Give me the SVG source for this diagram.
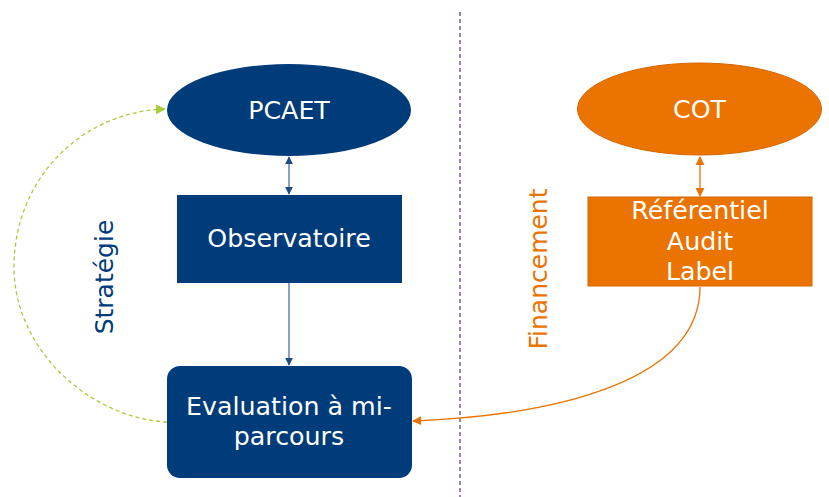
<svg xmlns="http://www.w3.org/2000/svg" width="829" height="497" viewBox="0 0 829 497">
<style>
.navy{fill:#003B7A;}
.orange{fill:#EB7300;stroke:#D46600;stroke-width:1;}
.lbl{font-family:"DejaVu Sans",Verdana,sans-serif;font-size:25.3px;fill:#ffffff;text-anchor:middle;}
.side{font-family:"DejaVu Sans",Verdana,sans-serif;font-size:25px;text-anchor:middle;}
.conn{fill:none;stroke-width:1.3;}
</style>
<defs>
<marker id="mNavy" viewBox="0 0 10 10" refX="9" refY="5" markerWidth="8" markerHeight="8" markerUnits="userSpaceOnUse" orient="auto-start-reverse"><path d="M0,0 L10,5 L0,10 z" fill="#1F4A86"/></marker>
<marker id="mOrange" viewBox="0 0 10 10" refX="9" refY="5" markerWidth="9" markerHeight="9" markerUnits="userSpaceOnUse" orient="auto-start-reverse"><path d="M0,0 L10,5 L0,10 z" fill="#EB7300"/></marker>
<marker id="mGreen" viewBox="0 0 10 10" refX="9" refY="5" markerWidth="10" markerHeight="10" markerUnits="userSpaceOnUse" orient="auto"><path d="M0,0 L10,5 L0,10 z" fill="#A8CC3C"/></marker>
</defs>
<rect width="829" height="497" fill="#ffffff"/>
<line x1="460" y1="12" x2="460" y2="497" stroke="#7B5AA6" stroke-width="1.5" stroke-dasharray="4,3"/>
<g id="connectors">
<line class="conn" x1="289" y1="157" x2="289" y2="194" stroke="#4A6FA5" marker-start="url(#mNavy)" marker-end="url(#mNavy)"/>
<line class="conn" x1="289" y1="283" x2="289" y2="365" stroke="#4A6FA5" marker-end="url(#mNavy)"/>
<path class="conn" d="M167,422 C90,418 14,350 14,267 C14,180 80,112 165,109" stroke="#A8CC3C" stroke-dasharray="4,3" marker-end="url(#mGreen)"/>
<line class="conn" x1="700" y1="157" x2="700" y2="196" stroke="#EB7300" marker-start="url(#mOrange)" marker-end="url(#mOrange)"/>
<path class="conn" d="M700,287 C700,380 560,415 413,421" stroke="#EB7300" marker-end="url(#mOrange)"/>
</g>
<g id="pcaet">
<ellipse class="navy" cx="289" cy="110" rx="122" ry="46"/>
<text class="lbl" x="289" y="119">PCAET</text>
</g>
<g id="observatoire">
<rect class="navy" x="177" y="195" width="225" height="88"/>
<text class="lbl" x="289" y="247">Observatoire</text>
</g>
<g id="evaluation">
<rect class="navy" x="167" y="366" width="245" height="112" rx="13" ry="13"/>
<text class="lbl" x="289" y="415">Evaluation à mi-</text>
<text class="lbl" x="289" y="445">parcours</text>
</g>
<g id="cot">
<ellipse class="orange" cx="699.5" cy="109" rx="122" ry="46"/>
<text class="lbl" x="699.5" y="118">COT</text>
</g>
<g id="referentiel">
<rect class="orange" x="588" y="197" width="224" height="89"/>
<text class="lbl" x="700" y="219">Référentiel</text>
<text class="lbl" x="700" y="250">Audit</text>
<text class="lbl" x="700" y="280">Label</text>
</g>
<g id="labels">
<text class="side" fill="#003B7A" transform="translate(113,277) rotate(-90)">Stratégie</text>
<text class="side" fill="#EB7300" transform="translate(547,269) rotate(-90)">Financement</text>
</g>
</svg>
